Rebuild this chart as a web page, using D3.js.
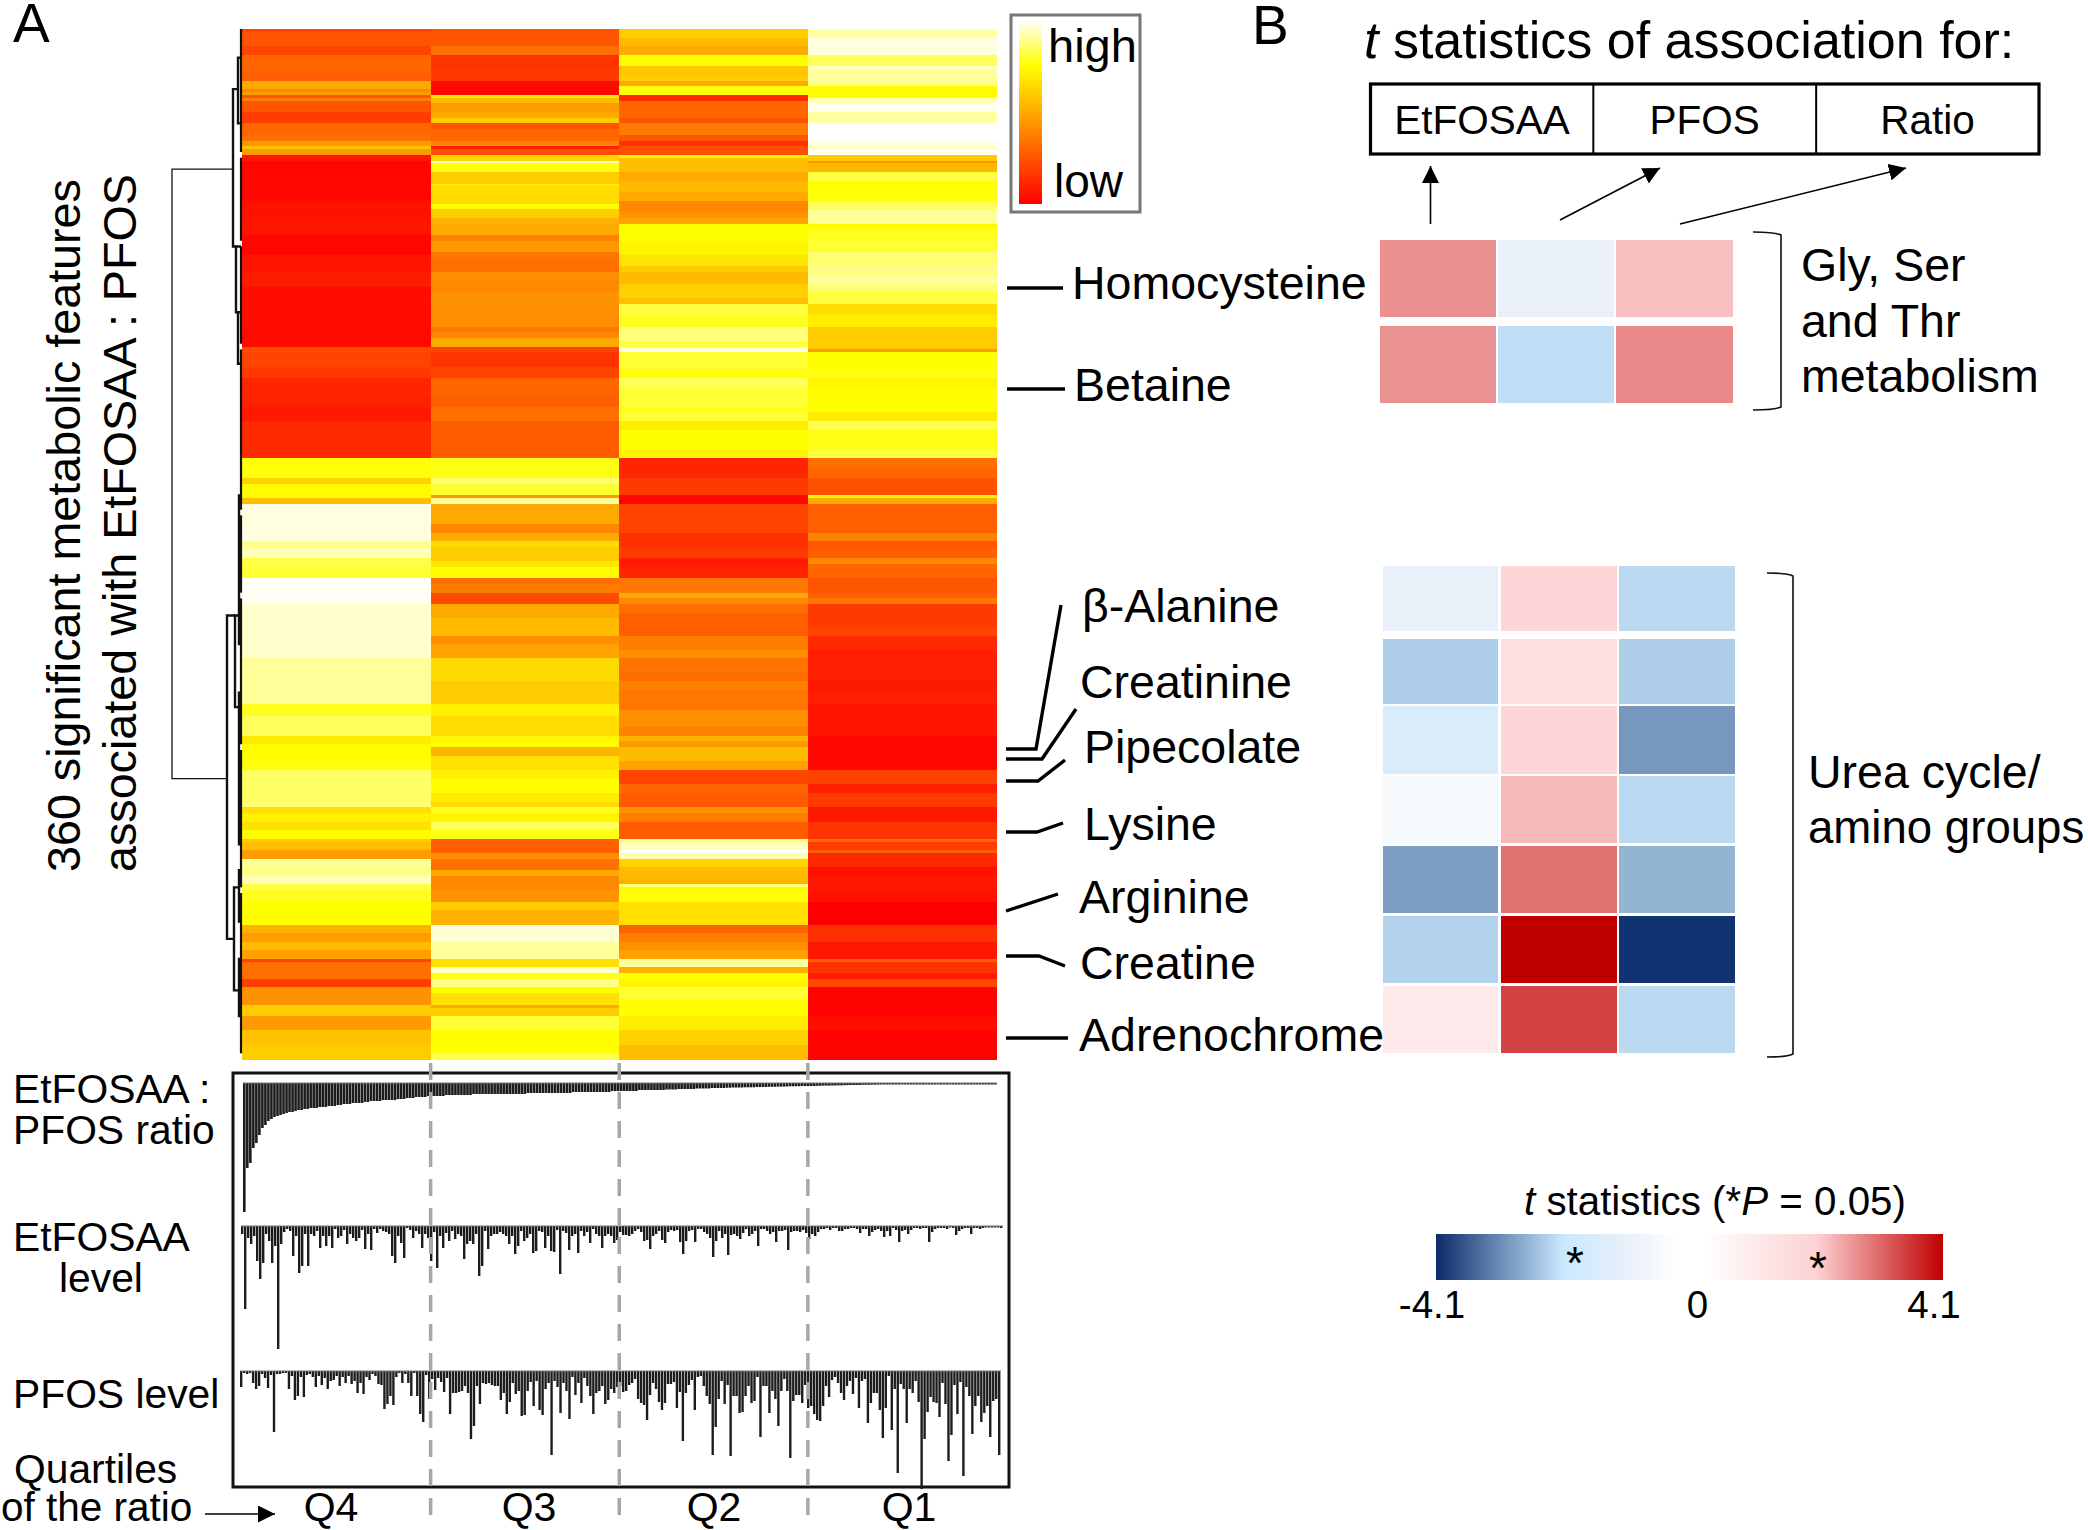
<!DOCTYPE html>
<html>
<head>
<meta charset="utf-8">
<script src="https://cdnjs.cloudflare.com/ajax/libs/d3/7.8.5/d3.min.js"></script>
<style>
html,body{margin:0;padding:0;background:#fff}
svg{display:block}
text{font-family:"Liberation Sans",Arial,sans-serif;fill:#000}
</style>
</head>
<body>
<svg id="c" width="2088" height="1530"></svg>
<script>
// ---------- DATA ----------
const quartiles = ["Q4","Q3","Q2","Q1"];
// Heatmap: run-length (row where each run ends, level 0 = red .. 100 = white)
const q4Ends = [1,6,9,15,18,21,22,23,24,25,29,33,37,39,41,42,44,46,60,67,72,79,85,90,104,111,113,118,122,128,132,137,150,157,159,164,166,179,181,185,188,192,201,220,236,240,247,250,256,259,270,272,274,277,280,283,284,287,290,293,296,299,301,305,313,316,319,322,325,326,332,335,341,345,350,355,360];
const q4Levels = [20,25,20,30,28,50,40,45,25,38,25,18,30,33,45,58,45,7,2,5,6,2,6,8,4,3,22,20,17,11,10,7,12,76,62,74,56,97,88,93,82,80,99,95,90,78,84,69,74,76,85,87,66,71,66,74,60,56,46,90,88,93,82,78,75,52,46,55,47,20,33,18,43,60,45,57,60];
const q3Ends = [6,9,14,18,23,24,26,29,31,33,35,39,41,42,44,46,47,50,54,55,61,63,66,68,72,74,78,80,85,88,92,96,104,106,108,111,113,118,122,128,132,137,150,157,159,163,164,166,173,176,179,181,186,188,192,194,197,201,206,212,215,220,228,236,240,247,249,251,254,259,262,267,270,272,274,277,280,283,288,290,294,296,301,305,308,313,319,325,328,330,332,335,337,341,342,345,350,358,360];
const q3Levels = [25,33,15,17,3,68,55,46,50,60,25,30,38,10,23,62,94,76,60,70,65,75,60,52,50,38,45,35,33,42,40,43,42,35,40,50,20,15,20,30,28,33,27,77,86,80,45,90,50,40,50,65,60,68,74,32,37,22,50,55,42,48,64,60,71,65,72,75,53,66,71,75,69,65,78,72,84,77,28,42,33,50,40,43,60,52,96,90,66,94,78,88,74,66,50,60,80,75,83];
const q2Ends = [3,6,9,13,16,18,20,23,25,31,33,37,39,41,44,45,50,53,57,60,64,66,68,74,79,83,85,89,91,94,96,100,104,109,111,113,119,122,125,132,134,137,140,147,150,157,163,166,176,181,185,188,192,197,199,201,204,212,217,220,225,228,231,238,244,247,249,251,256,259,264,267,270,272,274,277,283,285,287,288,290,293,297,299,300,302,305,313,316,319,322,325,328,330,332,335,339,345,350,355,360];
const q2Levels = [60,55,50,75,58,60,50,76,12,30,24,36,25,15,23,72,56,50,54,50,40,43,48,75,72,67,60,55,61,62,56,81,78,87,81,97,80,76,84,80,77,80,70,75,72,11,17,2,20,14,17,8,11,35,50,40,33,28,37,42,34,32,38,35,42,38,52,45,55,48,20,30,27,26,43,37,27,90,94,100,92,62,55,52,86,74,76,66,29,37,42,48,90,52,75,72,80,75,70,62,56];
const q1Ends = [3,9,13,14,18,20,24,26,29,33,39,41,42,44,46,47,50,53,56,60,63,68,70,74,78,83,87,89,91,92,96,100,104,112,113,119,122,125,134,137,140,147,150,153,157,163,164,166,176,179,181,185,187,192,197,199,201,209,212,217,228,231,236,247,259,264,267,272,277,283,284,287,288,293,296,301,305,313,319,325,326,330,332,335,345,350,360];
const q1Levels = [91,97,84,94,90,88,74,93,98,91,100,97,94,99,60,42,54,81,75,76,84,90,74,78,80,86,88,91,87,85,81,65,70,60,45,75,77,72,75,69,83,77,81,33,30,24,72,50,28,38,25,28,40,30,25,28,35,17,20,12,9,7,9,6,2,19,9,17,7,15,32,17,28,12,5,7,5,0,14,7,28,15,8,21,1,4,1];
const heatLegendStops = [0,25,50,75,87,100];
const heatLegendLabels = ["high","low"];

// Dendrogram merges: [height, rowA, rowB, height of child A, height of child B]
const dendroMerges = [
  [70,49,262,9,15],[9,21,76,4,6],[4,10,33,1,1],[6,76,99,1,4],[4,99,117,1,1],
  [15,205,318,7,8],[7,205,237,3,3],[3,163,215,1,1],[3,232,285,1,1],[8,300,336,3,3],[3,294,312,1,1],[3,325,345,1,1]
];
const dendroLeafRuns = [[0,43],[45,74],[76,110],[112,168],[170,197],[199,250],[252,300],[302,358]];

// Exposure bars (per subject, sorted by ratio)
const ratioBars = [129,85,80,65,60,52,45,42,38,36,34,33,32,31,30,29,29,28,27,27,26,26,25,25,25,24,24,24,23,23,23,22,22,21,21,21,20,20,20,20,19,19,18,18,18,18,17,17,17,17,17,16,16,16,15,15,15,14,14,14,14,13,13,13,13,13,13,12,12,12,12,12,12,12,12,12,11,11,11,11,11,11,11,11,11,11,11,11,11,11,11,11,11,11,10,10,10,10,10,10,10,10,10,10,10,10,10,10,10,9,9,9,9,9,9,9,9,9,9,9,9,9,8,8,8,8,8,8,8,8,8,7,7,7,7,7,7,7,7,7,6.5,6.5,6.5,6.5,6,6,6,6,6,6,5.5,5.5,5.5,5.5,5.5,5,5,5,5,5,4.7,4.7,4.5,4.5,4.5,4.5,4.3,4.3,4.3,4.3,4,4,4,4,3.8,3.8,3.8,3.6,3.6,3.6,3.4,3.3,3.3,3.2,3.2,3,3,3,3,3,2.8,2.8,2.6,2.6,2.6,2.5,2.5,2.4,2.4,2.2,2.2,2,2,2,2,1.8,1.8,1.8,1.7,1.7,1.6,1.5,1.5,1.4,1.4,1.3,1.3,1.2,1.2,1.1,1.1,1,1,0.9,0.8,0.8,0.7,0.7,0.6,0.6,0.6,0.5,0.5,0.5,0.4,0.4,0.4,0.3,0.3,0.3,0.3,0.2,0.2,0.2,0.2,0.2,0.1,0.1,0.1,0.1];
const etfosaaBars = [8,83,12,18,10,35,53,37,8,15,37,20,123,18,6,3,5,30,10,47,40,8,40,8,10,5,22,10,20,10,22,3,12,10,4,18,8,12,15,12,4,23,8,24,3,7,3,5,6,8,30,37,10,17,32,2,4,12,5,8,22,8,12,35,6,42,10,22,7,15,5,13,8,10,33,18,15,18,8,50,40,5,23,10,8,8,6,8,10,18,10,28,20,5,15,12,8,27,25,5,6,22,10,25,26,4,48,5,7,24,10,8,27,5,10,6,17,3,8,10,22,10,8,10,17,14,
6,9,9,10,8,5,3,6,15,14,23,10,8,5,14,17,6,4,5,4,16,28,15,5,4,16,3,3,6,8,12,31,15,5,12,8,29,9,8,10,13,7,3,10,8,5,20,3,3,5,8,6,16,5,5,4,24,6,5,5,6,4,7,13,8,10,6,3,3,2,4,2,2,5,5,3,3,2,2,3,7,3,3,10,6,4,3,5,11,5,10,2,4,16,5,4,8,4,2,2,3,2,2,16,6,3,2,2,2,3,1,2,9,5,3,2,2,8,2,2,3,2,1,1,1,1,1,2];
const pfosBars = [16,2,3,2,12,18,15,3,7,17,4,61,3,3,2,2,18,5,29,25,6,26,4,3,6,16,5,14,7,18,10,9,5,15,6,12,5,13,10,22,12,23,6,9,3,5,13,14,38,33,25,34,6,2,12,3,12,25,2,25,43,51,4,28,8,19,7,11,21,7,43,22,22,21,20,15,22,68,55,15,33,12,13,12,14,15,15,29,22,43,31,12,23,20,45,44,20,11,35,10,39,44,18,12,84,10,16,42,12,20,48,6,24,12,32,7,15,25,43,22,20,15,33,29,18,22,16,
15,21,20,14,12,8,28,32,34,49,24,12,18,31,39,32,13,13,11,37,21,70,22,14,9,39,6,5,15,25,33,84,56,28,10,33,14,85,25,25,42,41,25,15,32,30,6,66,15,15,42,20,28,55,20,8,20,87,30,24,24,32,14,37,35,43,49,50,35,15,26,9,6,12,22,29,15,10,23,7,37,10,8,52,32,22,22,39,67,37,5,59,18,102,13,18,52,18,22,10,31,118,68,41,26,31,32,46,12,33,90,64,14,43,11,105,16,25,63,35,25,51,42,35,66,30,28,84];

const panelLabels = [["EtFOSAA :",13,1103],["PFOS ratio",13,1144],["EtFOSAA",13,1251],["level",59,1292],["PFOS level",13,1408],["Quartiles",14,1483]];

// t statistics panel B
const assocColumns = ["EtFOSAA","PFOS","Ratio"];
const glyMetabolites = ["Homocysteine","Betaine"];
const glyEtfosaaT = [2.69,2.68];
const glyPfosT = [-1,-2.16];
const glyRatioT = [2.23,2.77];
const ureaMetabolites = ["β-Alanine","Creatinine","Pipecolate","Lysine","Arginine","Creatine","Adrenochrome"];
const ureaEtfosaaT = [-1,-2.33,-1.52,-0.49,-2.87,-2.29,1.05];
const ureaPfosT = [1.87,1.46,1.87,2.30,2.99,4.1,3.45];
const ureaRatioT = [-2.2,-2.33,-2.93,-2.2,-2.62,-4.02,-2.2];
const tTicks = [-4.1,0,4.1];
const starValues = [-1.87,2.06];

// ---------- LAYOUT ----------
const svg = d3.select("#c");
const FONT = 46.5;
function label(t,x,y,size,extra){
  const e = svg.append("text").attr("x",x).attr("y",y).attr("font-size",size).text(t);
  if(extra) extra(e);
  return e;
}
function heatColor(v){
  // red -> yellow (0..75), yellow -> white (75..100)
  if(v<=75) return d3.rgb(255,v/75*255,0).formatHex();
  return d3.rgb(255,255,(v-75)/25*255).formatHex();
}
function expandRuns(ends,levels){
  const out=[]; let start=0;
  ends.forEach((e,i)=>{ for(let r=start;r<e;r++) out.push(levels[i]); start=e; });
  return out;
}
const heatCols = [expandRuns(q4Ends,q4Levels),expandRuns(q3Ends,q3Levels),expandRuns(q2Ends,q2Levels),expandRuns(q1Ends,q1Levels)];
const xQ = d3.scaleBand().domain(quartiles).range([242,996.5]);
const yRow = d3.scaleLinear().domain([0,360]).range([29,1059]);

// ---- heatmap
const hm = svg.append("g").attr("shape-rendering","crispEdges");
quartiles.forEach((q,c)=>{
  hm.selectAll(null).data(heatCols[c]).join("rect")
    .attr("x",xQ(q)).attr("width",xQ.bandwidth()+0.5)
    .attr("y",(d,i)=>yRow(i)).attr("height",(d,i)=>yRow(i+1)-yRow(i)+0.5)
    .attr("fill",d=>heatColor(d));
});

// ---- dendrogram
const xDendro = d3.scaleLinear().domain([0,70]).range([242,172]);
const dendro = svg.append("g").attr("fill","none").attr("stroke","#111");
dendro.selectAll(null).data(dendroMerges).join("path")
  .attr("stroke-width",d=>d[0]===70?1.3:2.4)
  .attr("d",d=>`M${xDendro(d[3])},${yRow(d[1])}H${xDendro(d[0])}V${yRow(d[2])}H${xDendro(d[4])}`);
dendro.selectAll(null).data(dendroLeafRuns).join("line")
  .attr("x1",xDendro(1)).attr("x2",xDendro(1)).attr("stroke-width",2.2)
  .attr("y1",d=>yRow(d[0])).attr("y2",d=>yRow(d[1]));

// ---- left rotated title
[["360 significant metabolic features",80],["associated with EtFOSAA : PFOS",136]].forEach(([t,x])=>{
  label(t,0,0,46.7,e=>e.attr("transform",`translate(${x},872) rotate(-90)`));
});

// ---- heat legend
const defs = svg.append("defs");
const hg = defs.append("linearGradient").attr("id","heatGrad").attr("x1",0).attr("x2",0).attr("y1",1).attr("y2",0);
heatLegendStops.forEach(v=>hg.append("stop").attr("offset",v/100).attr("stop-color",heatColor(v)));
svg.append("rect").attr("x",1011).attr("y",15).attr("width",129).attr("height",197).attr("fill","#fff").attr("stroke","#777").attr("stroke-width",3);
svg.append("rect").attr("x",1019).attr("y",20).attr("width",23).attr("height",184).attr("fill","url(#heatGrad)");
label(heatLegendLabels[0],1048,62,47);
label(heatLegendLabels[1],1054,197,46);

// ---- bars box
svg.append("rect").attr("x",233).attr("y",1073).attr("width",776).attr("height",414).attr("fill","none").attr("stroke","#111").attr("stroke-width",3);

function barPanel(values,x0,x1,base,fillShare){
  const x = d3.scaleBand().domain(d3.range(values.length)).range([x0,x1]);
  const y = d3.scaleLinear().domain([0,130]).range([base,base+130]);
  const g = svg.append("g");
  g.selectAll("rect").data(values).join("rect")
    .attr("x",(d,i)=>x(i)).attr("width",x.step()*fillShare)
    .attr("y",y(0)).attr("height",d=>Math.max(1.5,y(d)-y(0)))
    .attr("fill","#1c1c1c");
  g.append("line").attr("x1",x0).attr("x2",x1).attr("y1",base).attr("y2",base).attr("stroke","#777").attr("stroke-width",1);
}
barPanel(ratioBars,243,997,1083,0.86);
barPanel(etfosaaBars,241,1003,1226,0.8);
barPanel(pfosBars,240,1001,1371,0.8);

// ---- quartile separators
quartiles.slice(1).forEach(q=>{
  svg.append("line").attr("x1",xQ(q)).attr("x2",xQ(q)).attr("y1",1063).attr("y2",1522)
    .attr("stroke","#aaa6a6").attr("stroke-width",3.5).attr("stroke-dasharray","17 12");
});

// ---- bottom labels
panelLabels.forEach(([t,x,y])=>label(t,x,y,40.8));
label("of the ratio",1,1521,40.5);
const qCenters = d3.scaleOrdinal(quartiles,[331,529,714,909]);
quartiles.forEach(q=>label(q,qCenters(q),1521,41,e=>e.attr("text-anchor","middle")));

defs.append("marker").attr("id","head").attr("viewBox","0 0 10 10").attr("refX",10).attr("refY",5)
  .attr("markerUnits","userSpaceOnUse").attr("markerWidth",17).attr("markerHeight",17).attr("orient","auto")
  .append("path").attr("d","M0,0L10,5L0,10Z").attr("fill","#000");
svg.append("line").attr("x1",205).attr("x2",275).attr("y1",1514).attr("y2",1514).attr("stroke","#000").attr("stroke-width",1.6).attr("marker-end","url(#head)");

// ---- leader lines and metabolite labels
const leaderPaths = [
  [[1007,288],[1063,288]],
  [[1007,389],[1065,389]],
  [[1006,749],[1036,749],[1061,605]],
  [[1006,759],[1042,759],[1076,709]],
  [[1006,781],[1038,781],[1065,760]],
  [[1006,832],[1037,832],[1063,823]],
  [[1006,911],[1058,894]],
  [[1006,956],[1039,956],[1065,966]],
  [[1006,1038],[1068,1038]]
];
const lineGen = d3.line();
svg.append("g").selectAll("path").data(leaderPaths).join("path").attr("d",lineGen).attr("fill","none").attr("stroke","#000").attr("stroke-width",3.4);
const nameSpots = d3.scaleOrdinal(glyMetabolites.concat(ureaMetabolites),[[1072,299],[1074,401],[1082,622],[1080,698],[1084,763],[1084,840],[1079,913],[1080,979],[1079,1051]]);
glyMetabolites.concat(ureaMetabolites).forEach(n=>{ const p=nameSpots(n); label(n,p[0],p[1],FONT); });

// ---- panel B
label("A",13,42,55);
label("B",1252,44,55);
const title = svg.append("text").attr("x",1364).attr("y",58).attr("font-size",52);
title.append("tspan").attr("font-style","italic").text("t");
title.append("tspan").text(" statistics of association for:");

// header table
const xHead = d3.scaleBand().domain(assocColumns).range([1370.5,2039]);
svg.append("rect").attr("x",1370.5).attr("y",84).attr("width",668.5).attr("height",70).attr("fill","none").attr("stroke","#000").attr("stroke-width",3.2);
assocColumns.slice(1).forEach(c=>svg.append("line").attr("x1",xHead(c)).attr("x2",xHead(c)).attr("y1",84).attr("y2",154).attr("stroke","#000").attr("stroke-width",2));
assocColumns.forEach(c=>label(c,xHead(c)+xHead.bandwidth()/2,134,40.5,e=>e.attr("text-anchor","middle")));

// arrows
[[[1430.5,224],[1430.5,166]],[[1560,220],[1660,168]],[[1680,224],[1906,168]]].forEach(a=>{
  svg.append("line").attr("x1",a[0][0]).attr("y1",a[0][1]).attr("x2",a[1][0]).attr("y2",a[1][1]).attr("stroke","#000").attr("stroke-width",1.6).attr("marker-end","url(#head)");
});

// t colour scale
const tColor = d3.scaleLinear().domain([-4.1,-2.05,-1,-0.2,0.2,2.05,4.1])
  .range(["#0b2c6b","#c9e8fd","#e9f0f9","#ffffff","#ffffff","#fdd2d3","#c00000"]).interpolate(d3.interpolateRgb);

function tMatrix(rows,series,x0,x1,tops,bottoms){
  const x = d3.scaleBand().domain(assocColumns).range([x0,x1]).paddingInner(0.02);
  const yT = d3.scaleOrdinal(rows,tops), yB = d3.scaleOrdinal(rows,bottoms);
  const g = svg.append("g").attr("shape-rendering","crispEdges");
  assocColumns.forEach((c,ci)=>{
    g.selectAll(null).data(rows.map((r,i)=>({r,t:series[ci][i]}))).join("rect")
      .attr("x",x(c)).attr("width",x.bandwidth())
      .attr("y",d=>yT(d.r)).attr("height",d=>yB(d.r)-yT(d.r))
      .attr("fill",d=>tColor(d.t));
  });
}
tMatrix(glyMetabolites,[glyEtfosaaT,glyPfosT,glyRatioT],1379.5,1732.5,[240,326],[317,403]);
tMatrix(ureaMetabolites,[ureaEtfosaaT,ureaPfosT,ureaRatioT],1382.5,1735,[566,639,706,776,846,916,986],[631,704,774,843,913,983,1053]);

// brackets
[[1753,1781,232,410],[1767,1793,573,1057]].forEach(([a,b,t,u])=>{
  svg.append("path").attr("fill","none").attr("stroke","#111").attr("stroke-width",1.6)
    .attr("d",`M${a},${t}Q${b-6},${t} ${b},${t+3}V${u-3}Q${b-6},${u} ${a},${u}`);
});
[["Gly, Ser",1801,281,FONT],["and Thr",1801,337,FONT],["metabolism",1801,392,FONT],["Urea cycle/",1808,788,FONT],["amino groups",1808,843,45.6]]
  .forEach(([t,x,y,s])=>label(t,x,y,s));

// t colour legend
const xT = d3.scaleLinear().domain([-4.1,4.1]).range([1436,1943]);
const tg = defs.append("linearGradient").attr("id","tGrad");
tColor.domain().forEach(v=>tg.append("stop").attr("offset",(xT(v)-1436)/507).attr("stop-color",tColor(v)));
svg.append("rect").attr("x",xT(-4.1)).attr("y",1234).attr("width",xT(4.1)-xT(-4.1)).attr("height",46).attr("fill","url(#tGrad)");
starValues.forEach((v,i)=>label("*",xT(v)+1,i?1284:1279,46,e=>e.attr("text-anchor","middle")));
tTicks.forEach(v=>label(String(v),xT(v)+(v===0?8:v<0?-4:-9),1318,38.5,e=>e.attr("text-anchor","middle")));
const tt = svg.append("text").attr("x",1524).attr("y",1215).attr("font-size",40.3);
tt.append("tspan").attr("font-style","italic").text("t");
tt.append("tspan").text(" statistics (*");
tt.append("tspan").attr("font-style","italic").text("P");
tt.append("tspan").text(" = 0.05)");
</script>
</body>
</html>
